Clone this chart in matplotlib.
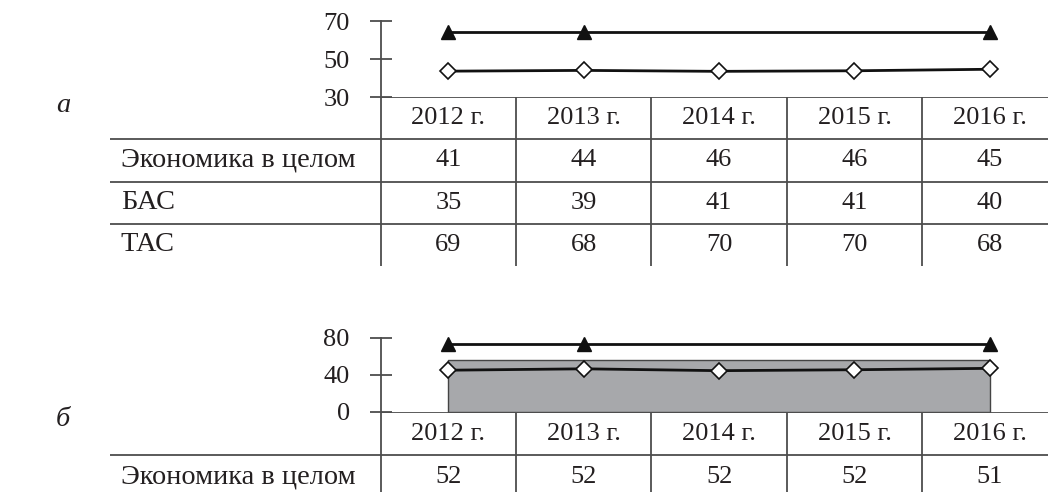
import matplotlib
matplotlib.use("Agg")
import matplotlib.pyplot as plt

plt.rcParams['font.family'] = ['Liberation Serif', 'DejaVu Serif']

years = ['2012 г.', '2013 г.', '2014 г.', '2015 г.', '2016 г.']
x = list(range(len(years)))

# panel a: table values
rows_a = ['Экономика в целом', 'БАС', 'ТАС']
econ_a = [41, 44, 46, 46, 45]
bas_a = [35, 39, 41, 41, 40]
tac_a = [69, 68, 70, 70, 68]
# panel a: plotted lines (as drawn in the picture)
line_tri_a = [64, 64, 64, 64, 64]
line_dia_a = [43.6, 44.0, 43.5, 43.8, 44.6]

# panel b: table values
rows_b = ['Экономика в целом']
econ_b = [52, 52, 52, 52, 51]
# panel b: plotted series (as drawn)
area_b = [56.5, 56.5, 56.5, 56.5, 56.5]
line_tri_b = [73, 73, 73, 73, 73]
line_dia_b = [45, 46.5, 44.5, 45.5, 47]

W, H = 1048, 492
TXT = '#231f20'
GRID = '#4d4d4d'
FS = 19
FS_LAB = 20.4
XL = (-2.5, 4.43)

fig = plt.figure(figsize=(W / 100, H / 100), dpi=100)


def rect(top, bottom, left=110, right=1048):
    return [left / W, 1 - bottom / H, (right - left) / W, (bottom - top) / H]


def plot_axes(top, bottom, ylim, ticks):
    ax = fig.add_axes(rect(top, bottom))
    ax.set_xlim(*XL)
    ax.set_ylim(*ylim)
    for s in ['top', 'right', 'bottom']:
        ax.spines[s].set_visible(False)
    ax.spines['left'].set_position(('data', -0.5))
    ax.spines['left'].set_color(GRID)
    ax.spines['left'].set_linewidth(1.3)
    ax.set_xticks([])
    ax.set_yticks(ticks)
    ax.tick_params(axis='y', direction='inout', length=16.5, width=1.3,
                   color=GRID, pad=14, labelsize=FS, labelcolor=TXT)
    ax.patch.set_alpha(0)
    return ax


def table_axes(top, bottom, rowh, labels, data):
    ax = fig.add_axes(rect(top, bottom))
    ax.set_xlim(*XL)
    nrows = (bottom - top) / rowh
    ax.set_ylim(nrows, 0)
    ax.axis('off')
    ax.hlines(0, -0.5, XL[1], color=GRID, lw=1.3)
    for r in range(1, len(labels) + 1):
        ax.hlines(r, XL[0], XL[1], color=GRID, lw=1.3)
    for i in x:
        ax.vlines(i - 0.5, 0, nrows, color=GRID, lw=1.3)
        ax.text(i, 0.5, years[i], ha='center', va='center', fontsize=FS, color=TXT)
    for r, (lab, vals) in enumerate(zip(labels, data)):
        ax.text(-2.42, r + 1.5, lab, ha='left', va='center', fontsize=FS_LAB, color=TXT)
        for i, v in enumerate(vals):
            ax.text(i, r + 1.5, str(v), ha='center', va='center', fontsize=FS, color=TXT)
    return ax


# panel a
axa = plot_axes(21, 97, (30, 70), [30, 50, 70])
axa.plot(x, line_tri_a, color='#111111', lw=2, marker='^', markersize=10,
         markevery=[0, 1, 4], markerfacecolor='#111111', clip_on=False)
axa.plot(x, line_dia_a, color='#111111', lw=2, marker='D', markersize=8,
         markerfacecolor='white', markeredgecolor='#111111', markeredgewidth=1.2, clip_on=False)
table_axes(97, 266, 42.25, rows_a, [econ_a, bas_a, tac_a])

# panel b
axb = plot_axes(337.7, 412, (0, 80), [0, 40, 80])
axb.fill_between(x, 0, area_b, facecolor='#a7a8ab', edgecolor='#444444', lw=1)
axb.plot(x, line_tri_b, color='#111111', lw=2, marker='^', markersize=10,
         markevery=[0, 1, 4], markerfacecolor='#111111', clip_on=False)
axb.plot(x, line_dia_b, color='#111111', lw=2, marker='D', markersize=8,
         markerfacecolor='white', markeredgecolor='#111111', markeredgewidth=1.2, clip_on=False)
table_axes(412, 497, 43, rows_b, [econ_b])

fig.text(63 / W, 1 - 106 / H, 'а', fontsize=FS_LAB, style='italic', color=TXT, ha='center', va='center')
fig.text(63 / W, 1 - 420 / H, 'б', fontsize=FS_LAB, style='italic', color=TXT, ha='center', va='center')

fig.savefig('out.png', dpi=100, facecolor='white')
